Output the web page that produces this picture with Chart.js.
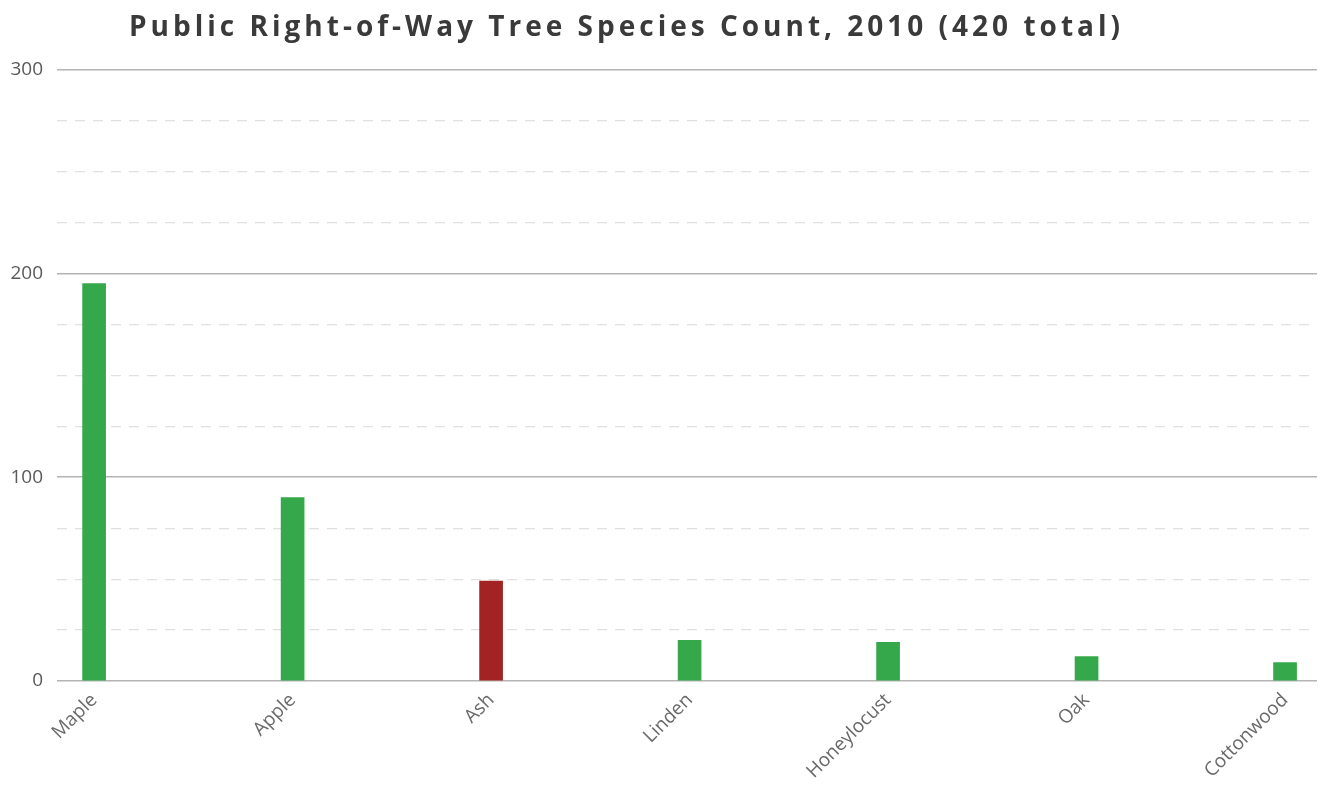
<!DOCTYPE html>
<html>
<head>
<meta charset="utf-8">
<script src="https://cdn.jsdelivr.net/npm/chart.js@4.4.1/dist/chart.umd.min.js"></script>
<style>
  html, body { margin: 0; padding: 0; background: #fff; }
  #wrap { width: 1320px; height: 789px; }
</style>
</head>
<body>
<div id="wrap"><canvas id="chart"></canvas></div>
<script>
// species counts
const species = ['Maple', 'Apple', 'Ash', 'Linden', 'Honeylocust', 'Oak', 'Cottonwood'];
const counts = [195, 90, 49, 20, 19, 12, 9];
const barColors = ['#34a84a', '#34a84a', '#a32223', '#34a84a', '#34a84a', '#34a84a', '#34a84a'];
const yTicks = [0, 100, 200, 300];

// spaced-out title text (canvas letterSpacing), nudged left like the original
const titleSpacing = {
  id: 'titleSpacing',
  beforeDraw(chart) {
    const tb = chart.titleBlock;
    if (!tb || tb._patched) return;
    const orig = tb.draw.bind(tb);
    tb.draw = function () {
      const ctx = chart.ctx;
      ctx.save();
      ctx.letterSpacing = '4px';
      ctx.translate(-32, 0);
      orig();
      ctx.restore();
    };
    tb._patched = true;
  }
};

new Chart(document.getElementById('chart'), {
  type: 'bar',
  data: {
    datasets: [{
      data: counts.map((v, i) => ({ x: i, y: v })),
      backgroundColor: barColors,
      borderWidth: 0,
      barThickness: 23
    }]
  },
  options: {
    responsive: true,
    maintainAspectRatio: false,
    animation: false,
    layout: { padding: { top: 0, right: 3, bottom: 0, left: 0 } },
    plugins: {
      legend: { display: false },
      tooltip: { enabled: false },
      title: {
        display: true,
        text: 'Public Right-of-Way Tree Species Count, 2010 (420 total)',
        color: '#3a3a3a',
        font: { family: 'Open Sans', size: 28, weight: 'bold' },
        padding: { top: 11, bottom: 25 }
      }
    },
    scales: {
      x: {
        type: 'linear',
        offset: false,
        min: -0.187,
        max: 6.161,
        grid: { display: false, offset: false },
        border: { display: false },
        afterFit(scale) { scale.height = 108; },
        ticks: {
          stepSize: 1,
          includeBounds: false,
          autoSkip: false,
          minRotation: 45,
          maxRotation: 45,
          padding: 0,
          color: '#6a6a6a',
          font: { family: 'Open Sans', size: 19 },
          callback: (v) => Number.isInteger(v) ? species[v] : ''
        }
      },
      y: {
        min: 0,
        max: 300,
        afterFit(scale) { scale.width = 57; },
        border: {
          display: false,
          dash: (ctx) => (ctx.tick && ctx.tick.value % 100 !== 0) ? [10, 8] : []
        },
        grid: {
          drawTicks: false,
          color: (ctx) => (ctx.tick && ctx.tick.value % 100 === 0) ? '#b4b4b4' : '#e0e0e0',
          lineWidth: (ctx) => (ctx.tick && ctx.tick.value % 100 === 0) ? 1.5 : 1.2
        },
        ticks: {
          stepSize: 25,
          padding: 14,
          color: '#5a5a5a',
          font: { family: 'Open Sans', size: 19 },
          callback: (v) => yTicks.includes(v) ? v : ''
        }
      }
    }
  },
  plugins: [titleSpacing]
});
</script>
</body>
</html>
